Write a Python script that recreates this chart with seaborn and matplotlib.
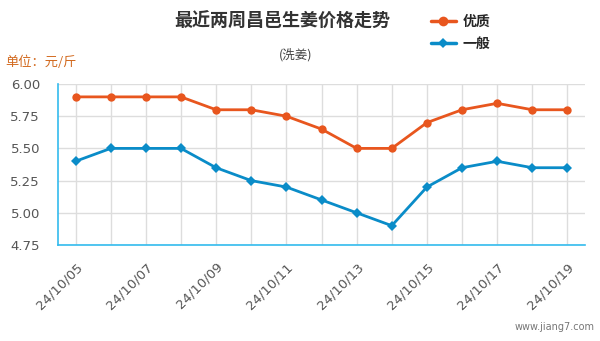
import matplotlib
matplotlib.use("Agg")
import matplotlib.pyplot as plt
import seaborn as sns
import pandas as pd
from matplotlib.lines import Line2D

dates = ["24/10/05","24/10/06","24/10/07","24/10/08","24/10/09","24/10/10","24/10/11","24/10/12",
         "24/10/13","24/10/14","24/10/15","24/10/16","24/10/17","24/10/18","24/10/19"]
premium = [5.9,5.9,5.9,5.9,5.8,5.8,5.75,5.65,5.5,5.5,5.7,5.8,5.85,5.8,5.8]
normal = [5.4,5.5,5.5,5.5,5.35,5.25,5.2,5.1,5.0,4.9,5.2,5.35,5.4,5.35,5.35]
series_names = ["优质", "一般"]
yticks = [4.75, 5.00, 5.25, 5.50, 5.75, 6.00]

sns.set_style("white")
plt.rcParams['font.family'] = ['Noto Sans CJK SC', 'DejaVu Sans']

df = pd.DataFrame({"idx": list(range(len(dates))) * 2,
                   "price": premium + normal,
                   "series": [series_names[0]] * len(dates) + [series_names[1]] * len(dates)})

fig = plt.figure(figsize=(6, 3.41), dpi=100)
ax = fig.add_axes([58/600, 1-245/341, (585-58)/600, (245-84)/341])

orange = "#e8561e"
blue = "#0a8cc8"
sns.lineplot(data=df, x="idx", y="price", hue="series", style="series",
             palette={series_names[0]: orange, series_names[1]: blue},
             markers={series_names[0]: "o", series_names[1]: "D"}, dashes=False,
             markersize=6, linewidth=2, markeredgewidth=0, ax=ax, legend=False)
for line in ax.lines:
    if line.get_marker() == "D":
        line.set_markersize(5)

ax.set_xlim(-0.5, len(dates) - 0.5)
ax.set_ylim(4.75, 6.0)
ax.set_yticks(yticks)
ax.set_yticklabels([f"{v:.2f}" for v in yticks], fontsize=9.5, color="#555555", family="DejaVu Sans")
ax.set_xticks(range(0, len(dates), 2))
ax.set_xticklabels([dates[i] for i in range(0, len(dates), 2)], rotation=45, ha="right",
                   rotation_mode="anchor", fontsize=9.5, color="#555555", family="DejaVu Sans")
ax.set_xlabel("")
ax.set_ylabel("")

for i in range(len(dates)):
    ax.axvline(i, color="#dddddd", linewidth=1, zorder=0)
for v in yticks:
    ax.axhline(v, color="#dddddd", linewidth=1, zorder=0)

spine_c = "#33bbee"
for s in ["top", "right"]:
    ax.spines[s].set_visible(False)
ax.spines["left"].set_color(spine_c)
ax.spines["bottom"].set_color(spine_c)
ax.spines["left"].set_linewidth(1.2)
ax.spines["bottom"].set_linewidth(1.2)
ax.tick_params(axis="both", which="both", length=9, color=spine_c, width=1.2, direction="out")
ax.tick_params(axis="y", pad=4)
ax.tick_params(axis="x", pad=2)

fig.text(282/600, 1-21/341, "最近两周昌邑生姜价格走势", ha="center", va="center",
         fontsize=13, fontweight="bold", color="#333333")
fig.text(296/600, 1-55/341, "(洗姜)", ha="center", va="center", fontsize=9, color="#444444")
fig.text(5/600, 1-62/341, "单位：元/斤", ha="left", va="center", fontsize=9.5, color="#d2691e")
fig.text(595/600, 1-327/341, "www.jiang7.com", ha="right", va="center", fontsize=7, color="#777777",
         family="DejaVu Sans")

handles = [Line2D([], [], color=orange, marker="o", markersize=7, linewidth=2.5, markeredgewidth=0),
           Line2D([], [], color=blue, marker="D", markersize=5.5, linewidth=2.5, markeredgewidth=0)]
leg = fig.legend(handles, series_names, loc="upper left", bbox_to_anchor=(418/600, 1-2/341),
                 frameon=False, handlelength=1.8, handletextpad=0.5, labelspacing=0.6,
                 prop={"weight": "bold", "size": 10})

fig.savefig("out.png", dpi=100)
